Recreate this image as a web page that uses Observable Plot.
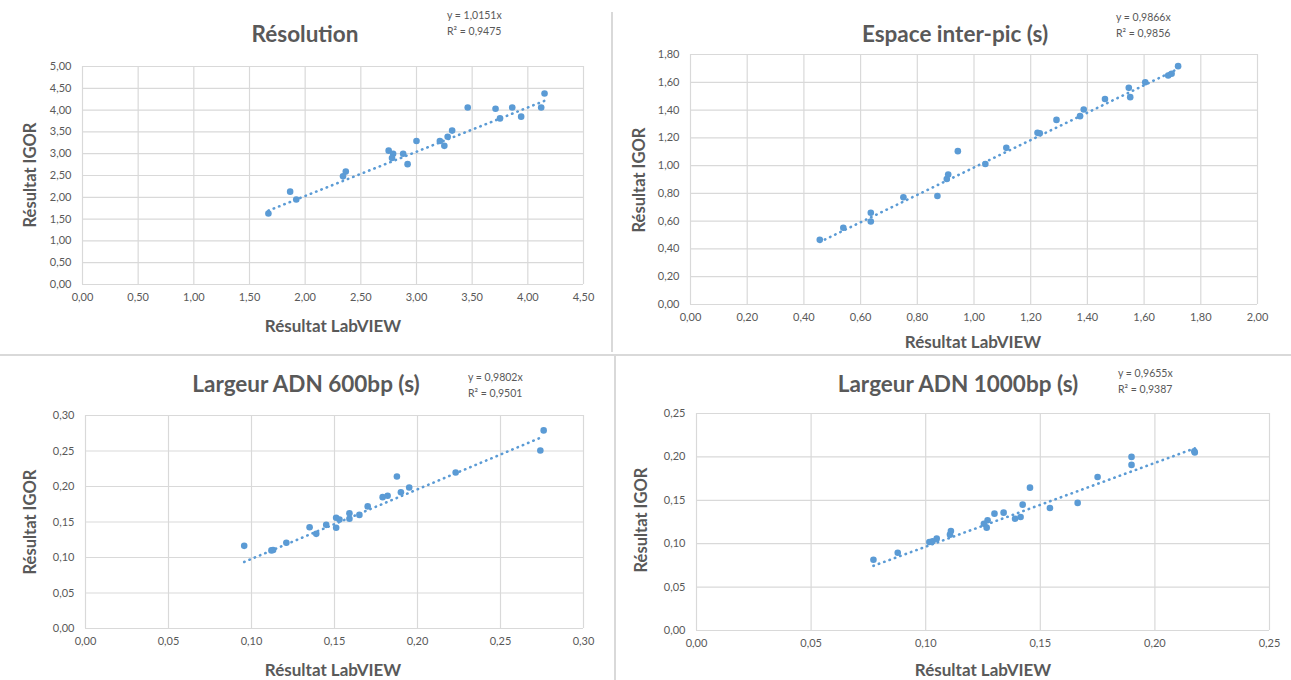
<!DOCTYPE html>
<html>
<head>
<meta charset="utf-8">
<script src="https://cdn.jsdelivr.net/npm/d3@7"></script>
<script src="https://cdn.jsdelivr.net/npm/@observablehq/plot@0.6"></script>
<style>
  html, body { margin: 0; padding: 0; background: #fff; }
  #page { position: relative; width: 1291px; height: 680px; overflow: hidden; font-family: Lato, "Open Sans", sans-serif; color: #595959; }
  .panel { position: absolute; }
  .title { position: absolute; font-weight: bold; font-size: 22.5px; white-space: nowrap; transform: translate(-50%, -50%); }
  .eq { position: absolute; font-size: 10.5px; white-space: nowrap; line-height: 16px; }
  .xlab { position: absolute; font-weight: bold; font-size: 17px; white-space: nowrap; transform: translate(-50%, -50%); }
  .ylab { position: absolute; font-weight: bold; font-size: 16.5px; white-space: nowrap; transform: translate(-50%, -50%) rotate(-90deg); }
  .line { position: absolute; background: #d9d9d9; }
</style>
</head>
<body>
<div id="page"></div>
<script>
// ---- Data ----
const resolutionLabview = [1.67,1.865,1.92,2.34,2.365,2.75,2.79,2.78,2.88,2.92,3.00,3.21,3.25,3.28,3.32,3.46,3.71,3.75,3.86,3.94,4.12,4.15];
const resolutionIgor    = [1.63,2.13,1.95,2.48,2.59,3.07,3.00,2.90,3.00,2.76,3.29,3.29,3.18,3.39,3.53,4.06,4.03,3.81,4.06,3.85,4.06,4.38];

const espaceLabview = [0.456,0.539,0.636,0.636,0.751,0.871,0.904,0.909,0.943,1.04,1.114,1.224,1.232,1.291,1.374,1.387,1.462,1.546,1.551,1.604,1.685,1.697,1.72];
const espaceIgor    = [0.466,0.553,0.661,0.598,0.772,0.781,0.904,0.936,1.104,1.012,1.128,1.236,1.233,1.329,1.356,1.404,1.48,1.56,1.493,1.60,1.649,1.661,1.716];

const adn600Labview = [0.0956,0.112,0.113,0.121,0.135,0.139,0.145,0.151,0.151,0.153,0.159,0.159,0.165,0.170,0.179,0.182,0.1876,0.190,0.195,0.223,0.274,0.276];
const adn600Igor    = [0.1164,0.110,0.1105,0.1207,0.1427,0.1333,0.146,0.156,0.142,0.1535,0.1545,0.1624,0.160,0.172,0.185,0.187,0.214,0.192,0.1986,0.2197,0.2507,0.279];

const adn1000Labview = [0.0772,0.0878,0.1016,0.103,0.1048,0.111,0.1106,0.1254,0.1266,0.127,0.130,0.134,0.139,0.1414,0.1423,0.1455,0.1542,0.1663,0.175,0.1898,0.1898,0.2172,0.2174];
const adn1000Igor    = [0.0815,0.0896,0.102,0.1027,0.1058,0.1146,0.1104,0.123,0.1185,0.127,0.1346,0.1358,0.1288,0.1308,0.145,0.1646,0.1412,0.147,0.1769,0.200,0.1908,0.2065,0.205];

const titles = ["Résolution", "Espace inter-pic (s)", "Largeur ADN 600bp (s)", "Largeur ADN 1000bp (s)"];
const slopes = [1.0151, 0.9866, 0.9802, 0.9655];
const equations = [["y = 1,0151x","R² = 0,9475"],["y = 0,9866x","R² = 0,9856"],["y = 0,9802x","R² = 0,9501"],["y = 0,9655x","R² = 0,9387"]];
const xTicks1 = [0,0.5,1,1.5,2,2.5,3,3.5,4,4.5];
const yTicks1 = [0,0.5,1,1.5,2,2.5,3,3.5,4,4.5,5];
const xTicks2 = [0,0.2,0.4,0.6,0.8,1,1.2,1.4,1.6,1.8,2];
const yTicks2 = [0,0.2,0.4,0.6,0.8,1,1.2,1.4,1.6,1.8];
const xTicks3 = [0,0.05,0.1,0.15,0.2,0.25,0.3];
const yTicks3 = [0,0.05,0.1,0.15,0.2,0.25,0.3];
const xTicks4 = [0,0.05,0.1,0.15,0.2,0.25];
const yTicks4 = [0,0.05,0.1,0.15,0.2,0.25];
const xLabel = "Résultat LabVIEW";
const yLabel = "Résultat IGOR";

// ---- Layout ----
const page = document.getElementById("page");
const fmt = d => d.toFixed(2).replace(".", ",");
const blue = "#5b9bd5";

function addDiv(cls, text, style) {
  const el = document.createElement("div");
  el.className = cls;
  if (text != null) el.textContent = text;
  Object.assign(el.style, style);
  page.appendChild(el);
  return el;
}

const panels = [
  {xs: resolutionLabview, ys: resolutionIgor, xt: xTicks1, yt: yTicks1, box: [0, 0, 611, 350], m: [66, 28, 66, 82],
   title: [305, 33], eq: [447, 7], xl: [333, 325], yl: [30, 175]},
  {xs: espaceLabview, ys: espaceIgor, xt: xTicks2, yt: yTicks2, box: [612, 0, 679, 355], m: [54, 34, 51, 78],
   title: [955, 33], eq: [1116, 9], xl: [973, 341], yl: [639, 180]},
  {xs: adn600Labview, ys: adn600Igor, xt: xTicks3, yt: yTicks3, box: [0, 356, 613, 324], m: [59, 30, 52, 85],
   title: [306, 383], eq: [468, 369], xl: [333, 669], yl: [30, 522]},
  {xs: adn1000Labview, ys: adn1000Igor, xt: xTicks4, yt: yTicks4, box: [615, 356, 676, 324], m: [57, 22, 50, 81],
   title: [958, 383], eq: [1118, 365], xl: [983, 669], yl: [641, 520]}
];

panels.forEach((p, i) => {
  const data = p.xs.map((x, j) => ({x, y: p.ys[j]}));
  const xmin = d3.min(p.xs), xmax = d3.max(p.xs);
  const trend = [{x: xmin, y: slopes[i] * xmin}, {x: xmax, y: slopes[i] * xmax}];
  const chart = Plot.plot({
    width: p.box[2], height: p.box[3],
    marginTop: p.m[0], marginRight: p.m[1], marginBottom: p.m[2], marginLeft: p.m[3],
    style: {fontFamily: "Lato, 'Open Sans', sans-serif", fontSize: "11px", color: "#595959", background: "transparent", overflow: "visible"},
    x: {domain: [p.xt[0], p.xt[p.xt.length - 1]], ticks: p.xt, tickFormat: fmt, tickSize: 0, tickPadding: 9, label: null},
    y: {domain: [p.yt[0], p.yt[p.yt.length - 1]], ticks: p.yt, tickFormat: fmt, tickSize: 0, tickPadding: 11, label: null},
    marks: [
      Plot.gridX(p.xt, {stroke: "#d9d9d9", strokeOpacity: 1, strokeWidth: 1.2}),
      Plot.gridY(p.yt, {stroke: "#d9d9d9", strokeOpacity: 1, strokeWidth: 1.2}),
      Plot.line(trend, {x: "x", y: "y", stroke: blue, strokeWidth: 2.6, strokeLinecap: "round", strokeDasharray: "0.4,5.3"}),
      Plot.dot(data, {x: "x", y: "y", r: 3.3, fill: blue, stroke: null})
    ]
  });
  const wrap = addDiv("panel", null, {left: p.box[0] + "px", top: p.box[1] + "px", width: p.box[2] + "px", height: p.box[3] + "px"});
  wrap.appendChild(chart);
  addDiv("title", titles[i], {left: p.title[0] + "px", top: p.title[1] + "px"});
  const eq = addDiv("eq", null, {left: p.eq[0] + "px", top: p.eq[1] + "px"});
  eq.innerHTML = equations[i].join("<br>");
  addDiv("xlab", xLabel, {left: p.xl[0] + "px", top: p.xl[1] + "px"});
  addDiv("ylab", yLabel, {left: p.yl[0] + "px", top: p.yl[1] + "px"});
});

// separators between the four charts
addDiv("line", null, {left: "611px", top: "12px", width: "1.5px", height: "340px"});
addDiv("line", null, {left: "0px", top: "354px", width: "1291px", height: "1.5px"});
addDiv("line", null, {left: "614px", top: "355px", width: "1.5px", height: "325px"});
</script>
</body>
</html>
